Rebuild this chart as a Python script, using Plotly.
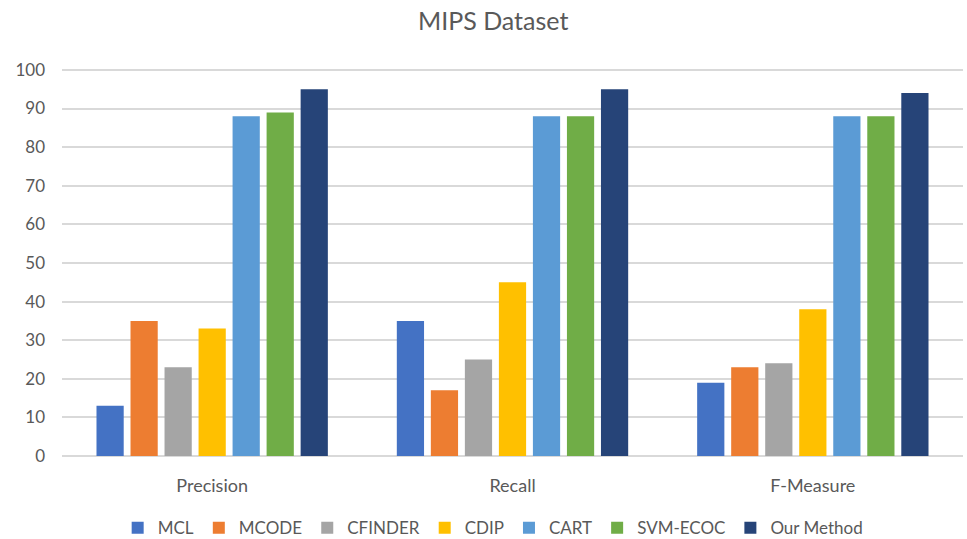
import plotly.graph_objects as go

# Evaluation metrics on the MIPS dataset
categories = ["Precision", "Recall", "F-Measure"]
methods = ["MCL", "MCODE", "CFINDER", "CDIP", "CART", "SVM-ECOC", "Our Method"]
mcl = [13, 35, 19]
mcode = [35, 17, 23]
cfinder = [23, 25, 24]
cdip = [33, 45, 38]
cart = [88, 88, 88]
svm_ecoc = [89, 88, 88]
our_method = [95, 95, 94]
y_ticks = list(range(0, 101, 10))

series = [mcl, mcode, cfinder, cdip, cart, svm_ecoc, our_method]
colors = ["#4472C4", "#ED7D31", "#A5A5A5", "#FFC000", "#5B9BD5", "#70AD47", "#264478"]

FONT = "Lato, 'Open Sans', sans-serif"
TEXT = "#595959"

fig = go.Figure()
for name, vals, col in zip(methods, series, colors):
    fig.add_trace(go.Bar(x=categories, y=vals, name=name, marker_color=col,
                         marker_line_width=0))

fig.update_layout(
    width=967, height=539,
    margin=dict(l=62, r=4, t=68, b=83, autoexpand=False),
    paper_bgcolor="white", plot_bgcolor="white",
    barmode="group", bargap=0.207, bargroupgap=0.2,
    title=dict(text="MIPS Dataset", x=0.51, xanchor="center", y=0.96, yanchor="middle",
               font=dict(family=FONT, size=25, color=TEXT)),
    font=dict(family=FONT, color=TEXT),
    legend=dict(orientation="h", x=0.51, xanchor="center", xref="container",
                y=0.02, yanchor="middle", yref="container",
                font=dict(family=FONT, size=17, color=TEXT), itemwidth=30,
                traceorder="normal"),
    showlegend=True,
)
fig.update_xaxes(showgrid=False, showline=False, ticks="", ticklabelstandoff=17,
                 tickfont=dict(family=FONT, size=18, color=TEXT))
fig.update_yaxes(range=[0, 100.5], tickvals=y_ticks, showgrid=True, gridcolor="#D9D9D9",
                 gridwidth=1.5, zeroline=True, zerolinecolor="#D9D9D9", zerolinewidth=1.5,
                 showline=False, ticks="", ticklabelstandoff=16,
                 tickfont=dict(family=FONT, size=17, color=TEXT))

fig.write_html("out.html")
